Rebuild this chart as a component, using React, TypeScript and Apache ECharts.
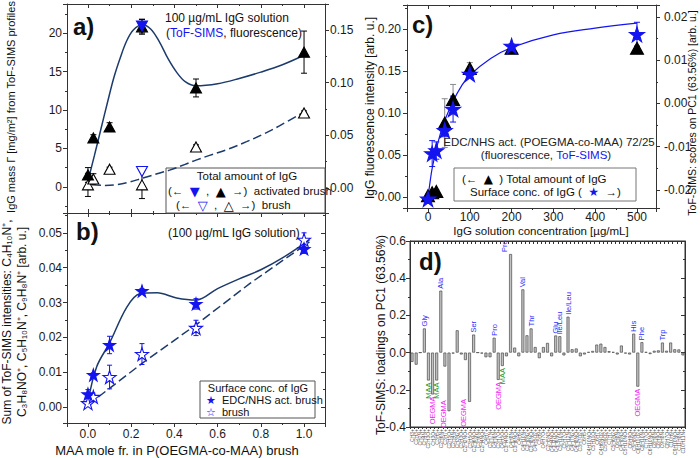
import React, { useEffect, useRef } from "react";
import * as echarts from "echarts";

const FONT = "'Liberation Sans', Arial, Helvetica, sans-serif";
const SYMFONT = "'DejaVu Sans', 'Liberation Sans', sans-serif";
const NAVY = "#1d3a6c";
const BLUE = "#1414f0";
const AXIS = "#333333";
const MAGENTA = "#f01cf0";
const GREEN = "#1f9a1f";
const STAR = "path://M50,2L61.8,37.6L99,37.6L69,59.6L80.4,95L50,73L19.6,95L31,59.6L1,37.6L38.2,37.6Z";

// ---------- panels a and b: MAA mole fraction ----------
const maaFraction = [0, 0.025, 0.1, 0.25, 0.5, 1.0];
// a) fluorescence (right axis)
const fluorActivated = [0.0124, 0.0476, 0.058, 0.153, 0.095, 0.129];
const fluorActivatedErr = [0.007, 0.003, 0.004, 0.007, 0.0085, 0.02];
const fluorBrush = [0.003, 0.0086, 0.0178, 0.003, 0.039, 0.0712];
const fluorBrushErr = [0.011, 0.005, 0.002, 0.013, 0.002, 0.002];
// a) ToF-SIMS mass (left axis)
const simsX = [0.25];
const simsActivated = [20.9];
const simsActivatedErr = [0.9];
const simsBrush = [2.0];
// a) fitted curves (right axis units)
const fitActX = [0, 0.03, 0.06, 0.09, 0.12, 0.15, 0.18, 0.21, 0.25, 0.29, 0.33, 0.37, 0.41, 0.45, 0.5, 0.6, 0.7, 0.8, 0.9, 1.0];
const fitActY = [0.0067, 0.031, 0.056, 0.081, 0.105, 0.124, 0.14, 0.15, 0.155, 0.151, 0.139, 0.123, 0.11, 0.101, 0.097, 0.099, 0.104, 0.11, 0.117, 0.126];
const fitBrushX = [0.018, 0.07, 0.125, 0.19, 0.254, 0.32, 0.378, 0.45, 0.5, 0.563, 0.65, 0.734, 0.81, 0.886, 0.992];
const fitBrushY = [0.003, 0.0025, 0.003, 0.0055, 0.0095, 0.0135, 0.017, 0.0225, 0.0265, 0.031, 0.037, 0.044, 0.051, 0.059, 0.0714];

// b) summed ToF-SIMS intensities
const edcBrush = [0.0037, 0.0092, 0.0178, 0.0333, 0.0296, 0.0454];
const edcBrushErr = [0.0013, 0.0006, 0.0025, 0.0007, 0.0015, 0.0013];
const plainBrush = [0.0011, 0.0029, 0.0086, 0.0152, 0.0227, 0.048];
const plainBrushErr = [0.0005, 0.0008, 0.0034, 0.003, 0.0022, 0.002];
const bFitActX = [0, 0.04, 0.1, 0.18, 0.24, 0.32, 0.41, 0.5, 0.6, 0.7, 0.8, 0.9, 1.025];
const bFitActY = [0.0015, 0.0115, 0.0184, 0.0287, 0.0325, 0.0328, 0.0313, 0.0307, 0.034, 0.0368, 0.0394, 0.0428, 0.048];
const bFitBrushX = [0, 0.25, 0.5, 0.75, 1.025];
const bFitBrushY = [0.0006, 0.0125, 0.0236, 0.0355, 0.0474];

// ---------- panel c ----------
const concentration = [0, 10, 20, 40, 60, 100, 200, 500];
const fluorTotal = [0.0015, 0.005, 0.0066, 0.088, 0.116, 0.153, 0.177, 0.177];
const fluorTotalErr = [0.002, 0.002, 0.002, 0.029, 0.018, 0.007, 0.003, 0.003];
const pcScores = [-0.0221, -0.0116, -0.0109, -0.0062, -0.0013, 0.0068, 0.0133, 0.016];
const pcScoresErr = [0.0008, 0.003, 0.002, 0.0015, 0.003, 0.0008, 0.0005, 0.0028];
const cFitX = [0, 5, 10, 20, 30, 40, 60, 80, 100, 150, 200, 300, 400, 500];
const cFitY = [-0.001, 0.018, 0.034, 0.057, 0.076, 0.091, 0.114, 0.132, 0.145, 0.165, 0.178, 0.193, 0.201, 0.207];

// ---------- panel d ----------
const fragmentIons = [
  "CH3+", "C2H3+", "CH2N+", "CH4N+", "C2H3O+", "CH3O+", "C3H5+", "C2H6N+", "C3H7+", "C2H5O+",
  "C2H4N+", "CH3N2+", "C3H3O+", "C2H2NO+", "C3H5O+", "C2H6NO+", "C3H6N+", "C2H4NO+", "C4H7+", "C3H7N+",
  "C4H6N+", "C3H7O+", "C4H5O+", "C3H4NO+", "C4H8N+", "C3H6NO+", "C4H9+", "C4H10N+", "C3H8N2+", "C3H8NO+",
  "C4H5O2+", "C5H9+", "C4H7O+", "C2H5N3+", "C4H4NO+", "C4H6NO+", "C5H10N+", "C5H7O+", "C5H12N+", "C4H7N2+",
  "C4H8NO+", "C3H7O2+", "C6H5+", "C4H10NO+", "C5H11O+", "C6H7+", "C4H6NO2+", "C5H9O2+", "C7H7+", "C5H6N2+",
  "C6H8N+", "C4H8N3+", "C5H10NO+", "C6H9O+", "C5H8N3+", "C6H11O2+", "C8H10N+", "C7H7O+", "C6H10NO+", "C8H8N+",
  "C8H9O+", "C9H8N+", "C8H7O+", "C10H9+", "C9H10NO+", "C11H8N+", "C10H11N+",
];
const loadings = [
  -0.05, -0.065, 0.0, 0.13, -0.15, -0.225, -0.15, 0.333, -0.075, -0.315,
  -0.005, 0.12, -0.01, -0.04, -0.265, 0.097, 0.0, -0.005, -0.025, -0.025,
  0.08, -0.147, -0.072, -0.02, 0.53, 0.027, -0.02, 0.34, 0.093, 0.13,
  0.03, -0.03, 0.03, 0.052, -0.02, 0.092, 0.088, -0.015, 0.193, 0.018,
  0.022, -0.02, -0.01, 0.003, 0.009, 0.043, 0.048, 0.03, 0.008, 0.003,
  -0.01, 0.038, -0.005, -0.01, 0.102, -0.183, 0.056, 0.003, -0.008, 0.01,
  0.012, 0.054, 0.01, 0.054, 0.018, 0.017, -0.015,
];
const annIndex = [3, 4, 5, 6, 7, 9, 14, 15, 20, 21, 22, 24, 27, 29, 35, 36, 38, 54, 55, 56, 61];
const annText = ["Gly", "MAA", "OEGMA", "MAA", "Ala", "OEGMA", "OEGMA", "Ser", "Pro", "OEGMA", "MAA", "Pro", "Val", "Thr", "Glu", "Ile/Leu", "Ile/Leu", "His", "OEGMA", "Phe", "Trp"];
const annKind = ["aa", "maa", "oeg", "maa", "aa", "oeg", "oeg", "aa", "aa", "oeg", "maa", "aa", "aa", "aa", "aa", "aa", "aa", "aa", "oeg", "aa", "aa"];

const pairs = (xs: number[], ys: number[]) => xs.map((x, i) => [x, ys[i]]);
const errs = (xs: number[], ys: number[], es: number[]) => xs.map((x, i) => [x, ys[i] - es[i], ys[i] + es[i]]);

function errorBars(xi: number, yi: number, data: number[][], color: string, cap: number, z = 3) {
  return {
    type: "custom", xAxisIndex: xi, yAxisIndex: yi, data, z, silent: true,
    encode: { x: 0, y: [1, 2] },
    renderItem: (_p: any, api: any) => {
      const x = api.value(0);
      const lo = api.coord([x, api.value(1)]);
      const hi = api.coord([x, api.value(2)]);
      const st = { stroke: color, lineWidth: 1 };
      return {
        type: "group",
        children: [
          { type: "line", shape: { x1: lo[0], y1: lo[1], x2: hi[0], y2: hi[1] }, style: st },
          { type: "line", shape: { x1: lo[0] - cap, y1: lo[1], x2: lo[0] + cap, y2: lo[1] }, style: st },
          { type: "line", shape: { x1: hi[0] - cap, y1: hi[1], x2: hi[0] + cap, y2: hi[1] }, style: st },
        ],
      };
    },
  };
}

function scatter(xi: number, yi: number, data: number[][], symbol: string, size: any, fill: string, border: string, rotate = 0, z = 5) {
  return {
    type: "scatter", xAxisIndex: xi, yAxisIndex: yi, data, symbol, symbolSize: size, symbolRotate: rotate,
    itemStyle: { color: fill, borderColor: border, borderWidth: 1.1, opacity: 1 }, z, silent: true,
  };
}

function fitLine(xi: number, yi: number, data: number[][], color: string, dashed: boolean, smooth: any, width = 1.5) {
  return {
    type: "line", xAxisIndex: xi, yAxisIndex: yi, data, symbol: "none", showSymbol: false, smooth,
    lineStyle: { color, width, type: dashed ? [9, 4] : "solid" }, z: 2, silent: true,
  };
}

const fmt = (d: number) => (v: number) => (Math.abs(v) < 1e-9 ? 0 : v).toFixed(d);

function vAxis(p: any) {
  return {
    type: "value", gridIndex: p.gi, position: p.pos, min: p.min, max: p.max,
    minInterval: p.step, maxInterval: p.step, splitNumber: Math.max(1, Math.round((p.max - p.min) / p.step)),
    axisLine: { show: true, onZero: false, lineStyle: { color: AXIS, width: 1 } },
    axisTick: { show: true, inside: !!p.tickIn, length: 4, lineStyle: { color: AXIS } },
    minorTick: { show: !!p.minor, splitNumber: 2, length: 2, lineStyle: { color: AXIS } },
    axisLabel: p.labels
      ? { show: true, formatter: fmt(p.dec), margin: p.margin ?? 5, fontFamily: FONT, fontSize: 12, color: "#1a1a1a", showMinLabel: !!p.showEnds, showMaxLabel: !!p.showEnds }
      : { show: false },
    splitLine: { show: false },
  };
}

function txt(x: number, y: number, text: string, extra: any = {}, rotation = 0) {
  return {
    type: "text", x, y, rotation, z: 100, silent: true,
    style: { text, fontFamily: FONT, fontSize: 12, fill: "#111", align: "left", verticalAlign: "middle", ...extra },
  };
}

const sym = (fill: string, size = 12) => ({ fill, fontSize: size, fontFamily: SYMFONT, lineHeight: size });

const grid = (left: number, top: number, width: number, height: number) => ({
  left, top, width, height, containLabel: false, outerBoundsMode: "none",
});

function optionABC() {
  return {
    animation: false,
    textStyle: { fontFamily: FONT },
    grid: [grid(67, 4, 258, 209), grid(67, 213, 258, 210), grid(407, 5, 249, 203)],
    xAxis: [
      vAxis({ gi: 0, pos: "bottom", min: -0.097, max: 1.097, step: 0.2, tickIn: true, minor: true }),
      vAxis({ gi: 0, pos: "top", min: -0.097, max: 1.097, step: 0.2, tickIn: true, minor: true }),
      vAxis({ gi: 1, pos: "bottom", min: -0.097, max: 1.097, step: 0.2, labels: true, dec: 1, margin: 5, minor: true }),
      vAxis({ gi: 1, pos: "top", min: -0.097, max: 1.097, step: 0.2, tickIn: true, minor: true }),
      vAxis({ gi: 2, pos: "bottom", min: -50.2, max: 545.5, step: 100, labels: true, dec: 0, margin: 3, minor: true }),
      vAxis({ gi: 2, pos: "top", min: -50.2, max: 545.5, step: 100, tickIn: true, minor: true }),
    ],
    yAxis: [
      vAxis({ gi: 0, pos: "left", min: -3.38, max: 23.77, step: 5, labels: true, dec: 0, margin: 5, minor: true }),
      vAxis({ gi: 0, pos: "right", min: -0.0237, max: 0.1747, step: 0.05, labels: true, dec: 2, margin: 5, minor: true }),
      vAxis({ gi: 1, pos: "left", min: -0.0046, max: 0.0557, step: 0.01, labels: true, dec: 2, margin: 5, minor: true }),
      vAxis({ gi: 1, pos: "right", min: -0.0046, max: 0.0557, step: 0.01, tickIn: true, minor: true }),
      vAxis({ gi: 2, pos: "left", min: -0.0131, max: 0.2286, step: 0.05, labels: true, dec: 2, margin: 6, minor: true }),
      vAxis({ gi: 2, pos: "right", min: -0.0242, max: 0.0228, step: 0.01, labels: true, dec: 2, margin: 8, minor: true }),
    ],
    series: [
      // ----- a -----
      fitLine(0, 1, pairs(fitActX, fitActY), NAVY, false, 0.35),
      fitLine(0, 1, pairs(fitBrushX, fitBrushY), NAVY, true, 0.35),
      errorBars(0, 1, errs(maaFraction, fluorActivated, fluorActivatedErr), "#000", 3),
      errorBars(0, 1, errs(maaFraction, fluorBrush, fluorBrushErr), "#000", 3),
      errorBars(0, 0, errs(simsX, simsActivated, simsActivatedErr), "#000", 3),
      scatter(0, 1, pairs(maaFraction, fluorBrush), "triangle", [11, 10], "#fff", "#000"),
      scatter(0, 1, pairs(maaFraction, fluorActivated), "triangle", [11, 10], "#000", "#000"),
      scatter(0, 0, pairs(simsX, simsActivated), "triangle", [11, 10], BLUE, BLUE, 180, 6),
      scatter(0, 0, pairs(simsX, simsBrush), "triangle", [11, 10], "#fff", BLUE, 180, 6),
      // ----- b -----
      fitLine(2, 2, pairs(bFitActX, bFitActY), NAVY, false, 0.35),
      fitLine(2, 2, pairs(bFitBrushX, bFitBrushY), NAVY, true, false),
      errorBars(2, 2, errs(maaFraction, edcBrush, edcBrushErr), BLUE, 2.5),
      errorBars(2, 2, errs(maaFraction, plainBrush, plainBrushErr), BLUE, 2.5),
      scatter(2, 2, pairs(maaFraction, plainBrush), STAR, 13, "#fff", BLUE),
      scatter(2, 2, pairs(maaFraction, edcBrush), STAR, 12, BLUE, BLUE),
      // ----- c -----
      fitLine(4, 4, pairs(cFitX, cFitY), BLUE, false, 0.4, 1.2),
      errorBars(4, 4, errs(concentration, fluorTotal, fluorTotalErr), "#8a8a8a", 3),
      errorBars(4, 5, errs(concentration, pcScores, pcScoresErr), BLUE, 3),
      scatter(4, 4, pairs(concentration, fluorTotal), "triangle", [13, 12], "#000", "#000"),
      scatter(4, 5, pairs(concentration, pcScores), STAR, 15, BLUE, BLUE, 0, 6),
    ],
    graphic: [
      txt(73, 26, "a)", { fontSize: 24, fontWeight: "bold" }),
      txt(76, 231, "b)", { fontSize: 24, fontWeight: "bold" }),
      txt(412, 24, "c)", { fontSize: 24, fontWeight: "bold" }),
      txt(419, 261, "d)", { fontSize: 24, fontWeight: "bold" }),
      // panel a notes and legend
      txt(165, 18, "100 µg/mL IgG solution"),
      txt(166, 33, "({b|ToF-SIMS}, fluorescence)", { rich: { b: { fill: BLUE, fontSize: 12, fontFamily: FONT } } }),
      { type: "rect", z: 1, silent: true, shape: { x: 166, y: 168, width: 159, height: 45 }, style: { fill: "#fff", stroke: "#555", lineWidth: 1 } },
      txt(247, 176, "Total amount of IgG", { fontSize: 11.5, align: "center" }),
      txt(168, 191, "(←  {bf|▼}  ,  {kf|▲}  →)  activated brush", { fontSize: 11.5, rich: { bf: sym(BLUE, 13), kf: sym("#000", 13) } }),
      txt(176, 205, "(←  {bo|▽}  ,  {ko|△}  →)  brush", { fontSize: 11.5, rich: { bo: sym(BLUE, 13), ko: sym("#000", 13) } }),
      // panel b notes and legend
      txt(168, 233, "(100 µg/mL IgG solution)"),
      { type: "rect", z: 1, silent: true, shape: { x: 200, y: 381, width: 115, height: 37 }, style: { fill: "#fff", stroke: "#555", lineWidth: 1 } },
      txt(258, 387.5, "Surface conc. of IgG", { fontSize: 11, align: "center" }),
      txt(206, 400, "{s|★}  EDC/NHS act. brush", { fontSize: 11, rich: { s: sym(BLUE, 11) } }),
      txt(206, 412, "{s|☆}  brush", { fontSize: 11, rich: { s: sym(BLUE, 11) } }),
      // panel c notes and legend
      txt(549, 142, "EDC/NHS act. (POEGMA-co-MAA) 72/25", { fontSize: 11.5, align: "center", fill: "#222" }),
      txt(546, 155, "(fluorescence, {b|ToF-SIMS})", { fontSize: 11.5, align: "center", fill: "#222", rich: { b: { fill: BLUE, fontSize: 11.5, fontFamily: FONT } } }),
      { type: "rect", z: 1, silent: true, shape: { x: 454, y: 168, width: 182, height: 33 }, style: { fill: "#fff", stroke: "#777", lineWidth: 1 } },
      txt(462, 178.5, "(←  {k|▲}  ) Total amount of IgG", { fontSize: 11.5, rich: { k: sym("#000", 12) } }),
      txt(470, 192, "Surface conc. of IgG (  {s|★}  →)", { fontSize: 11.5, rich: { s: sym(BLUE, 12) } }),
      // axis titles
      txt(11, 107, "IgG mass Γ [mg/m²] from ToF-SIMS profiles", { fontSize: 11, align: "center" }, Math.PI / 2),
      txt(7, 322, "Sum of ToF-SIMS intensities: C₄H₁₀N⁺,", { fontSize: 12, align: "center" }, Math.PI / 2),
      txt(22, 322, "C₃H₈NO⁺, C₅H₁₀N⁺, C₉H₈N⁺ [arb. u.]", { fontSize: 12, align: "center" }, Math.PI / 2),
      txt(177, 450, "MAA mole fr. in P(OEGMA-co-MAA) brush", { fontSize: 13, align: "center" }),
      txt(370, 108, "IgG fluorescence intensity [arb. u.]", { fontSize: 12, align: "center" }, Math.PI / 2),
      txt(692, 113, "ToF-SIMS: scores on PC1 (63.56%) [arb. u.]", { fontSize: 10.5, align: "center" }, Math.PI / 2),
      txt(541, 231, "IgG solution concentration [µg/mL]", { fontSize: 11.5, align: "center" }),
      txt(381, 335, "ToF-SIMS: loadings on PC1 (63.56%)", { fontSize: 12, align: "center" }, Math.PI / 2),
    ],
  };
}

// panel d axes (shown in the bar chart, hidden in the annotation overlay)
function dAxes(visible: boolean) {
  const catAxis = (pos: string, labels: boolean) => ({
    type: "category", gridIndex: 0, position: pos, data: fragmentIons,
    axisLine: { show: visible, onZero: false, lineStyle: { color: AXIS, width: 1 } },
    axisTick: { show: visible, interval: 0, inside: !labels, length: labels ? 2 : 3, lineStyle: { color: AXIS } },
    axisLabel: labels && visible
      ? { show: true, interval: 0, rotate: 90, fontSize: 5, margin: 2, color: "#555", fontFamily: FONT, hideOverlap: false }
      : { show: false },
    splitLine: { show: false },
  });
  const yAx = (pos: string, labels: boolean) => ({
    type: "value", gridIndex: 0, position: pos, min: -0.4, max: 0.6, minInterval: 0.2, maxInterval: 0.2, splitNumber: 5,
    axisLine: { show: visible, onZero: false, lineStyle: { color: AXIS, width: 1 } },
    axisTick: { show: visible, inside: !labels, length: 4 },
    minorTick: { show: visible, splitNumber: 2, length: 2 },
    axisLabel: labels && visible
      ? { show: true, formatter: fmt(1), margin: 4, fontSize: 12, fontFamily: FONT, color: "#1a1a1a", showMinLabel: true, showMaxLabel: true }
      : { show: false },
    splitLine: { show: false },
  });
  return {
    grid: [{ left: 410, top: 241, width: 275, height: 186, show: visible, borderColor: AXIS, borderWidth: 1, backgroundColor: "transparent", outerBoundsMode: "none" }],
    xAxis: [catAxis("bottom", true), catAxis("top", false)],
    yAxis: [yAx("left", true), yAx("right", false)],
  };
}

function optionD() {
  return {
    animation: false,
    ...dAxes(true),
    series: [
      {
        type: "bar", xAxisIndex: 0, yAxisIndex: 0, data: loadings, barWidth: "72%",
        itemStyle: { color: "#c2c2c2", borderColor: "#4a4a4a", borderWidth: 0.7 },
      },
    ],
  };
}

function optionDLabels() {
  const annData = annIndex.map((i, k) => [i, loadings[i], k]);
  return {
    animation: false,
    ...dAxes(false),
    series: [
      {
        type: "custom", xAxisIndex: 0, yAxisIndex: 0, data: annData, silent: true, z: 10,
        encode: { x: 0, y: 1 },
        renderItem: (_p: any, api: any) => {
          const i = api.value(0);
          const v = api.value(1);
          const k = api.value(2);
          const p = api.coord([i, v]);
          const up = v >= 0;
          const kind = annKind[k];
          const color = kind === "aa" ? "#2b2bff" : kind === "oeg" ? MAGENTA : GREEN;
          let dx = 0;
          let dy = 0;
          if (i === 9) { dx = -5; dy = -13; }
          if (i === 14) { dx = -6; dy = -5; }
          if (i === 24) { dx = -6; }
          return {
            type: "text",
            x: p[0] + dx,
            y: p[1] + (up ? -2 : 2) + dy,
            rotation: Math.PI / 2,
            style: {
              text: annText[k], fill: color, fontSize: 7.5, fontFamily: FONT,
              align: up ? "left" : "right", verticalAlign: "middle",
            },
          };
        },
      },
    ],
  };
}

export default function App() {
  const refMain = useRef<HTMLDivElement>(null);
  const refD = useRef<HTMLDivElement>(null);
  const refL = useRef<HTMLDivElement>(null);
  useEffect(() => {
    const c1 = echarts.init(refMain.current as HTMLDivElement, null, { renderer: "svg" });
    c1.setOption(optionABC() as any);
    const c2 = echarts.init(refD.current as HTMLDivElement, null, { renderer: "svg" });
    c2.setOption(optionD() as any);
    const c3 = echarts.init(refL.current as HTMLDivElement, null, { renderer: "svg" });
    c3.setOption(optionDLabels() as any);
    return () => {
      c1.dispose();
      c2.dispose();
      c3.dispose();
    };
  }, []);
  const box: React.CSSProperties = { position: "absolute", left: 0, top: 0, width: 700, height: 458 };
  return (
    <div style={{ ...box, background: "#fff" }}>
      <div ref={refMain} style={box} />
      <div ref={refD} style={{ ...box, pointerEvents: "none" }} />
      <div ref={refL} style={{ ...box, pointerEvents: "none" }} />
    </div>
  );
}
